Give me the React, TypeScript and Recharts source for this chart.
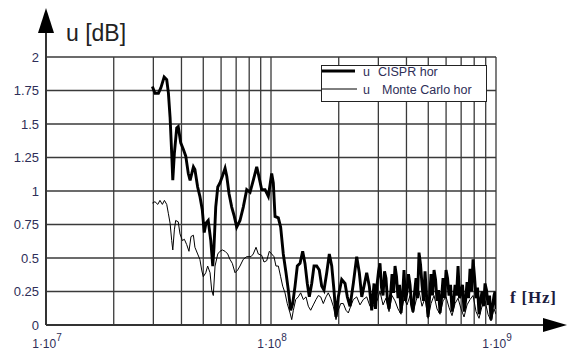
import { LineChart, Line, XAxis, YAxis, CartesianGrid, Legend } from "recharts";

// frequencies in MHz, u in dB
const cisprFreq = [
  29.7, 30.5, 31.6, 32.4, 33.5, 34.4, 35.0, 35.6, 36.2, 36.6, 37.2, 38.1, 38.7, 39.7, 40.8, 41.8,
  42.9, 43.7, 45.2, 45.9, 47.2, 48.3, 49.5, 50.5, 51.4, 52.6, 54.0, 55.1, 55.8, 56.8, 58.0, 59.3,
  60.8, 62.5, 63.6, 65.1, 66.9, 68.7, 70.4, 72.8, 75.3, 78.0, 80.7, 83.4, 86.4, 87.8, 90.9, 94.1,
  97.3, 100.7, 102.4, 104.2, 107.8, 110.4, 113.4, 116.6, 119.4, 122.3, 124.9, 127.9, 130.9, 134.6,
  138.3, 141.6, 145.0, 148.0, 151.7, 155.3, 159.6, 163.9, 168.0, 172.0, 176.9, 181.6, 186.2, 190.5,
  194.5, 199.1, 206.2, 213.3, 218.4, 224.5, 232.2, 240.4, 246.9, 253.1, 259.1, 266.3, 273.5, 280.3,
  287.0, 291.3, 295.9, 300.5, 305.1, 309.8, 314.7, 319.6, 324.4, 329.4, 334.6, 339.8, 345.1, 350.5,
  355.8, 361.3, 366.9, 372.6, 378.4, 384.3, 390.1, 396.1, 402.3, 408.5, 414.9, 421.3, 427.8, 434.4,
  441.1, 447.9, 454.9, 462.0, 469.1, 476.4, 483.7, 491.2, 498.8, 506.5, 514.3, 522.3, 530.4, 538.6,
  546.9, 555.4, 564.0, 572.7, 581.6, 590.6, 599.8, 609.1, 618.4, 628.0, 637.7, 647.6, 657.6, 667.8,
  678.1, 688.6, 699.2, 710.0, 721.1, 732.3, 743.5, 755.0, 766.7, 778.6, 790.6, 802.8, 815.3, 827.9,
  840.6, 853.6, 866.9, 880.3, 893.9, 907.8, 921.7, 936.0, 950.5, 965.2, 980.0, 990, 1000,
];
const cisprU = [
  1.78, 1.73, 1.73, 1.77, 1.85, 1.83, 1.73, 1.55, 1.28, 1.08, 1.28, 1.47, 1.48, 1.36, 1.31, 1.26,
  1.13, 1.08, 1.18, 1.16, 1.03, 0.96, 0.86, 0.69, 0.76, 0.78, 0.63, 0.44, 0.58, 0.88, 1.03, 1.06,
  1.11, 1.17, 1.11, 0.98, 0.88, 0.81, 0.73, 0.78, 0.88, 1.01, 0.99, 1.08, 1.18, 1.13, 1.01, 1.01,
  0.96, 1.13, 1.06, 0.81, 0.80, 0.73, 0.53, 0.39, 0.26, 0.11, 0.16, 0.29, 0.44, 0.46,
  0.55, 0.46, 0.31, 0.21, 0.31, 0.44, 0.44, 0.41, 0.29, 0.26, 0.39, 0.53, 0.44, 0.26,
  0.06, 0.21, 0.34, 0.31, 0.21, 0.14, 0.31, 0.51, 0.39, 0.21, 0.29, 0.39, 0.29, 0.11,
  0.31, 0.12, 0.30, 0.40, 0.46, 0.28, 0.22, 0.40, 0.35, 0.18, 0.12, 0.22, 0.38, 0.24,
  0.44, 0.36, 0.20, 0.30, 0.09, 0.22, 0.41, 0.18, 0.25, 0.38, 0.30, 0.15, 0.10, 0.24,
  0.35, 0.20, 0.54, 0.45, 0.30, 0.18, 0.40, 0.22, 0.06, 0.20, 0.38, 0.22, 0.41, 0.34,
  0.18, 0.26, 0.09, 0.20, 0.35, 0.20, 0.41, 0.35, 0.22, 0.30, 0.10, 0.16, 0.30, 0.22,
  0.44, 0.20, 0.25, 0.30, 0.10, 0.18, 0.32, 0.20, 0.42, 0.25, 0.49, 0.36, 0.20, 0.28,
  0.08, 0.18, 0.25, 0.14, 0.31, 0.26, 0.15, 0.22, 0.04, 0.14, 0.22, 0.25, 0.12,
];

const mcFreq = [
  29.7, 30.5, 31.4, 32.1, 32.9, 33.6, 34.4, 35.0, 35.6, 36.2, 36.6, 37.2, 37.7, 38.7, 39.4, 40.4,
  41.2, 42.2, 43.2, 44.1, 45.2, 45.9, 47.2, 48.3, 49.2, 50.0, 51.3, 52.3, 53.6, 54.5, 55.4, 56.4,
  58.0, 59.3, 60.8, 62.5, 64.2, 65.7, 67.3, 69.2, 71.1, 72.8, 75.3, 78.0, 81.5, 83.4, 85.8, 87.8,
  90.9, 93.1, 95.7, 98.3, 100.7, 103.1, 105.2, 107.8, 110.4, 112.7, 115.4, 118.1, 121.5, 123.6,
  125.7, 128.8, 132.2, 135.5, 139.2, 143.1, 146.5, 150.1, 154.2, 158.5, 162.3, 166.3, 170.8, 175.6,
  179.7, 184.2, 189.2, 194.5, 199.1, 204.1, 209.6, 215.4, 220.6, 226.1, 232.2, 240.4, 248.6, 257.1,
  266.3, 275.4, 285.0, 295.9, 305.1, 314.7, 324.4, 334.6, 345.1, 355.8, 366.9, 378.4, 390.1, 402.3,
  414.9, 427.8, 441.1, 454.9, 469.1, 483.7, 498.8, 514.3, 530.4, 546.9, 564.0, 581.6, 599.8, 618.4,
  637.7, 657.6, 678.1, 699.2, 721.1, 743.5, 766.7, 790.6, 815.3, 840.6, 866.9, 893.9, 921.7, 950.5,
  980.0, 1000,
];
const mcU = [
  0.91, 0.92, 0.90, 0.93, 0.90, 0.93, 0.90, 0.83, 0.76, 0.63, 0.56, 0.71, 0.78, 0.77, 0.68, 0.63,
  0.64, 0.60, 0.55, 0.66, 0.67, 0.58, 0.53, 0.49, 0.41, 0.36, 0.39, 0.44, 0.39, 0.26, 0.22, 0.44,
  0.53, 0.55, 0.56, 0.55, 0.53, 0.49, 0.46, 0.39, 0.41, 0.44, 0.49, 0.51, 0.51, 0.53, 0.58, 0.53,
  0.52, 0.47, 0.48, 0.55, 0.53, 0.51, 0.44, 0.44, 0.36, 0.29, 0.24, 0.16, 0.09, 0.04,
  0.11, 0.19, 0.21, 0.24, 0.19, 0.21, 0.14, 0.11, 0.15, 0.19, 0.22, 0.21, 0.16, 0.21,
  0.24, 0.20, 0.14, 0.04, 0.11, 0.16, 0.16, 0.11, 0.09, 0.14, 0.19, 0.21, 0.15, 0.19,
  0.21, 0.14, 0.14, 0.18, 0.25, 0.15, 0.20, 0.10, 0.22, 0.18, 0.12, 0.08, 0.20, 0.15,
  0.22, 0.09, 0.18, 0.25, 0.14, 0.20, 0.05, 0.16, 0.22, 0.12, 0.08, 0.18, 0.21, 0.13,
  0.07, 0.16, 0.20, 0.12, 0.06, 0.15, 0.19, 0.22, 0.10, 0.05, 0.14, 0.18, 0.08, 0.03,
  0.12, 0.08,
];

const gridFreqs = [10, 20, 30, 40, 50, 60, 70, 80, 90, 100, 200, 300, 400, 500, 600, 700, 800, 900, 1000];
const decadeExp: Record<number, string> = { 10: "7", 100: "8", 1000: "9" };
const yTicks = [0, 0.25, 0.5, 0.75, 1, 1.25, 1.5, 1.75, 2];

const cisprRows = cisprFreq.map((f, i) => ({ f, u: cisprU[i] }));
const mcRows = mcFreq.map((f, i) => ({ f, u: mcU[i] }));

const textColor = "#2e2e58";
const font = "Arial, 'Liberation Sans', sans-serif";

function FreqTick({ x, y, payload }: any) {
  const exp = decadeExp[payload.value];
  if (!exp) return null;
  return (
    <text x={x + 1} y={y + 15} textAnchor="middle" fontSize={12} fill={textColor} fontFamily={font}>
      1·10
      <tspan dy={-7} fontSize={10}>{exp}</tspan>
    </text>
  );
}

function LegendBox() {
  return (
    <svg width={166} height={37} style={{ display: "block" }}>
      <rect x={0.5} y={0.5} width={165} height={36} fill="#fff" stroke="#222" strokeWidth={1} />
      <line x1={1} y1={6} x2={34} y2={6} stroke="#000" strokeWidth={2.8} />
      <text x={42} y={10.5} fontSize={12.5} fill={textColor} fontFamily={font}>u</text>
      <text x={57} y={10.5} fontSize={12.5} fill={textColor} fontFamily={font}>CISPR hor</text>
      <line x1={1} y1={24} x2={36} y2={24} stroke="#000" strokeWidth={1} />
      <text x={42} y={28.5} fontSize={12.5} fill={textColor} fontFamily={font}>u</text>
      <text x={61} y={28.5} fontSize={12.5} fill={textColor} fontFamily={font}>Monte Carlo hor</text>
    </svg>
  );
}

export default function App() {
  return (
    <div style={{ position: "absolute", left: 0, top: 0, width: 571, height: 352, background: "#fff" }}>
      <LineChart width={571} height={352} margin={{ top: 57, right: 75, bottom: 0, left: 0 }}>
        <CartesianGrid stroke="#3a3a3a" strokeWidth={1.3} />
        <XAxis
          dataKey="f"
          type="number"
          scale="log"
          domain={[10, 1000]}
          ticks={gridFreqs}
          interval={0}
          allowDataOverflow
          height={27}
          tickLine={false}
          axisLine={{ stroke: "#333", strokeWidth: 2 }}
          tick={<FreqTick />}
        />
        <YAxis
          type="number"
          domain={[0, 2]}
          ticks={yTicks}
          interval={0}
          width={46}
          tickLine={false}
          tickMargin={1}
          axisLine={{ stroke: "#333", strokeWidth: 2 }}
          tick={{ fontSize: 13, fill: textColor, fontFamily: font }}
        />
        <Line data={mcRows} dataKey="u" type="linear" stroke="#000" strokeWidth={1} dot={false} isAnimationActive={false} />
        <Line data={cisprRows} dataKey="u" type="linear" stroke="#000" strokeWidth={2.9} dot={false} isAnimationActive={false} />
        <Legend
          layout="horizontal"
          verticalAlign="middle"
          align="center"
          content={<LegendBox />}
          wrapperStyle={{ left: 321, top: 65, width: 166, height: 37 }}
        />
      </LineChart>
      <svg width={571} height={352} style={{ position: "absolute", left: 0, top: 0, pointerEvents: "none" }}>
        <line x1={46} y1={325} x2={46} y2={28} stroke="#333" strokeWidth={2} />
        <polygon points="46,8 38,33 54,33" fill="#000" />
        <line x1={46} y1={325} x2={548} y2={325} stroke="#333" strokeWidth={2} />
        <polygon points="567,325 543,318 543,332" fill="#000" />
        <text x={66} y={41} fontSize={23} fill="#222" fontFamily={font}>u [dB]</text>
        <text x={510} y={302.5} fontSize={17} fontWeight="bold" fill="#1c1c40" fontFamily="'Liberation Serif', 'Times New Roman', serif" letterSpacing={0.8}>f [Hz]</text>
      </svg>
    </div>
  );
}
